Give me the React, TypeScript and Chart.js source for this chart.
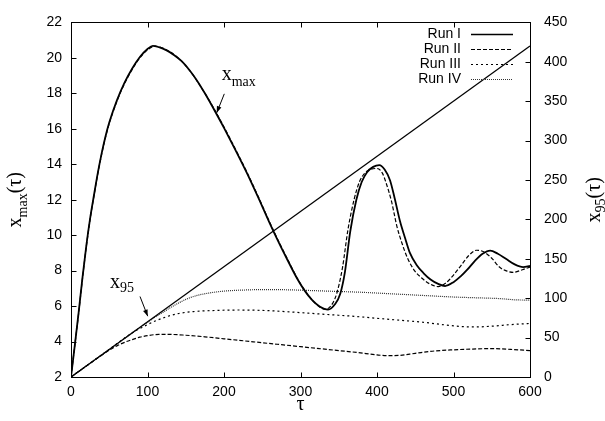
import React, { useEffect, useRef } from "react";
import { Chart, registerables } from "chart.js";
Chart.register(...registerables);

// ---- data ----
const tauXmaxI = [0, 5, 10, 15, 20, 25, 30, 35, 40, 45, 50, 60, 70, 80, 90, 100, 107, 115, 125, 135, 145, 155, 165, 175, 190, 200, 215, 230, 245, 260, 272, 283, 295, 305, 315, 325, 336, 345, 352, 358, 365, 373, 380, 387, 395, 403, 410, 417, 423, 430, 437, 443, 452, 461, 470, 480, 489, 500, 510, 518, 528, 538, 548, 558, 569, 580, 591, 600];
const xmaxI = [2.0, 3.8, 5.65, 7.6, 9.4, 10.95, 12.25, 13.5, 14.6, 15.55, 16.35, 17.6, 18.6, 19.4, 20.05, 20.5, 20.68, 20.6, 20.42, 20.15, 19.8, 19.3, 18.7, 18.0, 16.85, 16.05, 14.8, 13.5, 12.1, 10.65, 9.55, 8.6, 7.6, 6.9, 6.35, 5.98, 5.8, 6.1, 6.7, 7.9, 10.2, 12.0, 13.0, 13.55, 13.85, 13.95, 13.7, 13.1, 12.1, 10.8, 9.8, 9.0, 8.3, 7.85, 7.5, 7.25, 7.13, 7.35, 7.7, 8.05, 8.55, 8.95, 9.13, 8.95, 8.65, 8.35, 8.2, 8.26];

const tauXmaxII = [0, 5, 10, 15, 20, 25, 30, 35, 40, 45, 50, 60, 70, 80, 90, 100, 110, 120, 130, 140, 150, 160, 170, 180, 190, 200, 215, 230, 245, 260, 272, 283, 295, 305, 315, 325, 333, 342, 348, 355, 362, 370, 377, 384, 392, 400, 407, 413, 419, 426, 433, 440, 449, 458, 469, 480, 490, 500, 510, 520, 530, 540, 550, 560, 570, 578, 590, 600];
const xmaxII = [2.0, 3.8, 5.6, 7.55, 9.35, 10.9, 12.2, 13.45, 14.55, 15.5, 16.3, 17.55, 18.55, 19.35, 20.0, 20.45, 20.66, 20.55, 20.32, 20.0, 19.55, 19.0, 18.35, 17.65, 16.9, 16.1, 14.85, 13.55, 12.15, 10.7, 9.6, 8.65, 7.63, 6.92, 6.35, 5.95, 5.82, 6.15, 6.8, 8.2, 10.3, 12.0, 13.0, 13.5, 13.72, 13.76, 13.5, 12.8, 11.9, 10.5, 9.5, 8.7, 8.0, 7.6, 7.25, 7.1, 7.3, 7.75, 8.3, 8.85, 9.15, 9.05, 8.7, 8.2, 7.97, 7.9, 8.05, 8.2];

const tauX95I = [0, 600];
const x95I = [0, 420];

const tauX95II = [0, 20, 40, 50, 60, 70, 80, 90, 100, 115, 130, 150, 175, 200, 225, 250, 275, 300, 325, 350, 375, 400, 415, 430, 450, 475, 500, 525, 550, 575, 600];
const x95II = [0, 14, 27.5, 34, 39.5, 44, 47.5, 50.5, 52.5, 54, 54, 53, 51, 48.5, 46, 43.5, 41, 38.5, 36, 33.5, 31, 28, 27, 27.5, 30, 33, 34.5, 35.5, 36, 35, 33.5];

const tauX95III = [0, 40, 80, 90, 100, 110, 125, 140, 160, 190, 220, 250, 280, 310, 340, 370, 400, 430, 460, 490, 510, 530, 550, 575, 600];
const x95III = [0, 28, 56, 61.5, 66.5, 71, 76.5, 80.5, 83, 84.5, 85, 84.5, 83, 81, 79, 77, 74.5, 72, 69.5, 66, 64, 63.5, 64.5, 66.5, 68];

const tauX95IV = [0, 50, 100, 110, 120, 130, 140, 150, 165, 180, 200, 230, 260, 290, 320, 350, 380, 410, 440, 470, 500, 530, 560, 580, 600];
const x95IV = [0, 35, 69.5, 76, 82, 88, 93.5, 98.5, 103.5, 106.5, 109, 110.5, 111, 110.5, 109.5, 108.5, 107.5, 106, 104.5, 103, 101.5, 100.5, 99.5, 98, 97.5];

const legendLabels = ["Run I", "Run II", "Run III", "Run IV"];
const tauRange = [0, 600];
const xmaxRange = [2, 22];
const x95Range = [0, 450];

// ---- styles ----
const dashes: number[][] = [[], [4, 2], [2, 3], [1, 1]];
const widths = [1.5, 1.2, 1.2, 1.2];
const colors = ["#000", "#000", "#000", "#333"];

function pts(xs: number[], ys: number[]) {
  return xs.map((x, i) => ({ x, y: ys[i] }));
}

function drawParts(ctx: CanvasRenderingContext2D, x: number, y: number, parts: [string, number, number][]) {
  let cx = x;
  for (const [t, size, dy] of parts) {
    ctx.font = `${size}px "Liberation Serif"`;
    ctx.fillText(t, cx, y + dy);
    cx += ctx.measureText(t).width;
  }
}
function partsWidth(ctx: CanvasRenderingContext2D, parts: [string, number, number][]) {
  let w = 0;
  for (const [t, size] of parts) {
    ctx.font = `${size}px "Liberation Serif"`;
    w += ctx.measureText(t).width;
  }
  return w;
}

function arrow(ctx: CanvasRenderingContext2D, x1: number, y1: number, x2: number, y2: number) {
  ctx.beginPath();
  ctx.moveTo(x1, y1);
  ctx.lineTo(x2, y2);
  ctx.stroke();
  const ang = Math.atan2(y2 - y1, x2 - x1);
  const h = 7, w = 0.35;
  ctx.beginPath();
  ctx.moveTo(x2, y2);
  ctx.lineTo(x2 - h * Math.cos(ang - w), y2 - h * Math.sin(ang - w));
  ctx.lineTo(x2 - h * Math.cos(ang + w), y2 - h * Math.sin(ang + w));
  ctx.closePath();
  ctx.fill();
}

const decor = {
  id: "decor",
  afterDatasetsDraw(chart: any) {
    const { ctx, chartArea: a, scales } = chart;
    const sx = scales.x, sy = scales.y, sy2 = scales.y2;
    ctx.save();
    ctx.strokeStyle = "#000";
    ctx.fillStyle = "#000";
    ctx.lineWidth = 1;
    ctx.setLineDash([]);
    // frame
    const L = Math.round(a.left) + 0.5, R = Math.round(a.right) + 0.5;
    const T = Math.round(a.top) + 0.5, B = Math.round(a.bottom) + 0.5;
    ctx.strokeRect(L, T, R - L, B - T);
    // inward ticks
    const tl = 5;
    ctx.beginPath();
    sx.ticks.forEach((t: any) => {
      const px = Math.round(sx.getPixelForValue(t.value)) + 0.5;
      ctx.moveTo(px, B); ctx.lineTo(px, B - tl);
      ctx.moveTo(px, T); ctx.lineTo(px, T + tl);
    });
    sy.ticks.forEach((t: any) => {
      const py = Math.round(sy.getPixelForValue(t.value)) + 0.5;
      ctx.moveTo(L, py); ctx.lineTo(L + tl, py);
    });
    sy2.ticks.forEach((t: any) => {
      const py = Math.round(sy2.getPixelForValue(t.value)) + 0.5;
      ctx.moveTo(R, py); ctx.lineTo(R - tl, py);
    });
    ctx.stroke();

    ctx.textBaseline = "alphabetic";
    ctx.textAlign = "left";
    // left title
    const leftParts: [string, number, number][] = [["x", 20, 0], ["max", 14, 6], ["(τ)", 20, 0]];
    ctx.save();
    ctx.translate(21, (a.top + a.bottom) / 2);
    ctx.rotate(-Math.PI / 2);
    drawParts(ctx, -partsWidth(ctx, leftParts) / 2, 0, leftParts);
    ctx.restore();
    // right title
    const rightParts: [string, number, number][] = [["x", 20, 0], ["95", 14, 5], ["(τ)", 20, 0]];
    ctx.save();
    ctx.translate(600, (a.top + a.bottom) / 2);
    ctx.rotate(-Math.PI / 2);
    drawParts(ctx, -partsWidth(ctx, rightParts) / 2, 0, rightParts);
    ctx.restore();
    // bottom title
    ctx.font = '20px "Liberation Serif"';
    ctx.textAlign = "center";
    ctx.fillText("τ", (a.left + a.right) / 2, 410);
    ctx.textAlign = "left";

    // annotations (data coordinates on the x / left axes)
    drawParts(ctx, sx.getPixelForValue(197), sy.getPixelForValue(18.76), [["x", 20, 0], ["max", 14, 6]]);
    arrow(ctx, sx.getPixelForValue(200.4), sy.getPixelForValue(17.97), sx.getPixelForValue(190.5), sy.getPixelForValue(16.9));
    drawParts(ctx, sx.getPixelForValue(51), sy.getPixelForValue(7.0), [["x", 20, 0], ["95", 14, 4]]);
    arrow(ctx, sx.getPixelForValue(90.2), sy.getPixelForValue(6.54), sx.getPixelForValue(100.3), sy.getPixelForValue(5.43));

    // legend
    ctx.font = '14px "Liberation Sans"';
    ctx.textAlign = "right";
    ctx.textBaseline = "middle";
    legendLabels.forEach((lab, i) => {
      const y = a.top + 12 + i * 15;
      ctx.fillStyle = "#000";
      ctx.fillText(lab, a.right - 69, y);
      ctx.beginPath();
      ctx.strokeStyle = colors[i];
      ctx.lineWidth = widths[i];
      ctx.setLineDash(dashes[i]);
      ctx.moveTo(a.right - 59, Math.round(y) + 0.5);
      ctx.lineTo(a.right - 17, Math.round(y) + 0.5);
      ctx.stroke();
    });
    ctx.restore();
  },
};

export default function App() {
  const ref = useRef<HTMLCanvasElement>(null);
  useEffect(() => {
    if (!ref.current) return;
    const ds = (data: any, i: number, axis: string, bw?: number) => ({
      data,
      yAxisID: axis,
      borderColor: colors[i],
      borderWidth: bw ?? widths[i],
      borderDash: dashes[i],
      pointRadius: 0,
      fill: false,
      cubicInterpolationMode: "monotone" as const,
      label: legendLabels[i],
    });
    const chart = new Chart(ref.current, {
      type: "line",
      data: {
        datasets: [
          ds(pts(tauXmaxI, xmaxI), 0, "y", 1.8),
          ds(pts(tauXmaxII, xmaxII), 1, "y"),
          ds(pts(tauX95I, x95I), 0, "y2", 1.3),
          ds(pts(tauX95II, x95II), 1, "y2"),
          ds(pts(tauX95III, x95III), 2, "y2"),
          ds(pts(tauX95IV, x95IV), 3, "y2"),
        ],
      },
      options: {
        animation: false,
        responsive: false,
        layout: { padding: { top: 17, left: 0, right: 0, bottom: 0 } },
        plugins: { legend: { display: false }, tooltip: { enabled: false } },
        scales: {
          x: {
            type: "linear",
            min: tauRange[0],
            max: tauRange[1],
            grid: { display: false, drawTicks: false },
            border: { display: false },
            ticks: { stepSize: 100, padding: 7, color: "#000", font: { family: "Liberation Sans", size: 14 } },
            afterFit: (s: any) => { s.height = 44; },
          },
          y: {
            position: "left",
            min: xmaxRange[0],
            max: xmaxRange[1],
            grid: { display: false, drawTicks: false },
            border: { display: false },
            ticks: { stepSize: 2, padding: 9, color: "#000", font: { family: "Liberation Sans", size: 14 } },
            afterFit: (s: any) => { s.width = 71; },
          },
          y2: {
            position: "right",
            min: x95Range[0],
            max: x95Range[1],
            grid: { display: false, drawTicks: false },
            border: { display: false },
            ticks: { stepSize: 50, padding: 14, color: "#000", font: { family: "Liberation Sans", size: 14 } },
            afterFit: (s: any) => { s.width = 75; },
          },
        },
      },
      plugins: [decor],
    });
    return () => chart.destroy();
  }, []);
  return (
    <div style={{ position: "absolute", left: 0, top: 0, width: 605, height: 421, background: "#fff" }}>
      <canvas ref={ref} width={605} height={421} style={{ display: "block" }} />
    </div>
  );
}
